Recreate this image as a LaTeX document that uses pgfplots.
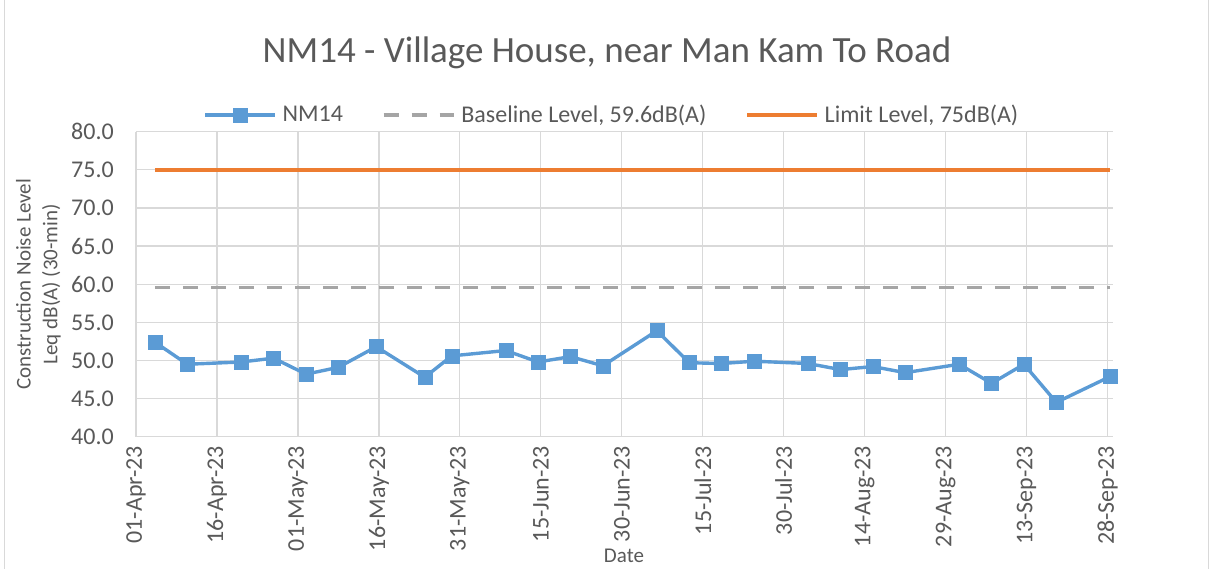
\documentclass[border=0pt]{standalone}
\usepackage{fontspec}
\setmainfont{Carlito}
\usepackage{pgfplots}
\pgfplotsset{compat=1.18}
\definecolor{nmblue}{HTML}{5B9BD5}
\definecolor{limorange}{HTML}{ED7D31}
\definecolor{basegray}{HTML}{A5A5A5}
\definecolor{gridgray}{HTML}{D9D9D9}
\definecolor{txtgray}{HTML}{595959}
\begin{document}
\begin{tikzpicture}
\path[use as bounding box] (-136bp,-132.3bp) rectangle (1074bp,436.7bp);
\draw[gridgray, line width=1bp] (-131bp,-140bp) -- (-131bp,450bp);
\draw[gridgray, line width=1bp] (1072bp,-140bp) -- (1072bp,450bp);
\begin{axis}[
  at={(0bp,0bp)}, anchor=south west,
  scale only axis, width=977bp, height=305bp,
  xmin=0, xmax=181, ymin=40, ymax=80,
  xtick={0,15,...,180},
  xticklabels={01-Apr-23,16-Apr-23,01-May-23,16-May-23,31-May-23,15-Jun-23,30-Jun-23,15-Jul-23,30-Jul-23,14-Aug-23,29-Aug-23,13-Sep-23,28-Sep-23},
  ytick={40,45,...,80},
  major tick length=0pt,
  grid=major,
  major grid style={gridgray, line width=1.2bp},
  axis lines*=left,
  axis line style={gridgray, line width=1.4bp, -},
  /pgf/number format/.cd, fixed, fixed zerofill, precision=1, assume math mode=true,
  /pgfplots/.cd,
  yticklabel style={font=\fontsize{24bp}{28bp}\selectfont, text=txtgray, inner sep=0pt, anchor=east},
  yticklabel shift=22bp,
  xticklabel style={font=\fontsize{24bp}{28bp}\selectfont, text=txtgray, inner sep=0pt, rotate=90, anchor=east},
  xticklabel shift=9bp,
  ylabel={Construction Noise Level\\Leq dB(A) (30-min)},
  ylabel style={font=\fontsize{21bp}{26.7bp}\selectfont, text=txtgray, align=center, at={(axis description cs:-0.0999,0.5)}, anchor=center},
  xlabel={Date},
  xlabel style={font=\fontsize{21bp}{25bp}\selectfont, text=txtgray, at={(axis description cs:0.4995,-0.391)}, anchor=center},
  legend columns=-1,
  legend style={at={(axis description cs:0.487,1.055)}, anchor=center, draw=none, fill=none,
    font=\fontsize{24bp}{28bp}\selectfont, text=txtgray,
    /tikz/every even column/.append style={column sep=37bp}},
  legend image code/.code={\draw[mark repeat=2,mark phase=2,#1] plot coordinates {(0bp,0bp) (35bp,0bp) (70bp,0bp)}; \path (74bp,0bp);},
]
\addplot[nmblue, line width=3.4bp, mark=square*, mark size=7bp, mark options={solid, fill=nmblue, draw=nmblue, line width=0.5bp}] coordinates {
(3.5,52.4)(9.5,49.5)(19.5,49.8)(25.5,50.3)(31.5,48.2)(37.5,49.1)(44.5,51.8)(53.5,47.8)(58.5,50.6)(68.5,51.3)(74.5,49.8)(80.5,50.5)(86.5,49.3)(96.5,53.9)(102.5,49.7)(108.5,49.6)(114.5,49.9)(124.5,49.6)(130.5,48.8)(136.5,49.2)(142.5,48.4)(152.5,49.5)(158.5,47.0)(164.5,49.5)(170.5,44.5)(180.5,47.9)
};
\addlegendentry{NM14}
\addplot[basegray, line width=3.4bp, dash pattern=on 15bp off 13bp] coordinates {(3.5,59.6)(180.5,59.6)};
\addlegendentry{Baseline Level, 59.6dB(A)}
\addplot[limorange, line width=3.4bp] coordinates {(3.5,75)(180.5,75)};
\addlegendentry{Limit Level, 75dB(A)}
\end{axis}
\node[anchor=base, font=\fontsize{37bp}{44bp}\selectfont, text=txtgray] at (471bp,373.7bp) {NM14 - Village House, near Man Kam To Road};
\end{tikzpicture}
\end{document}
